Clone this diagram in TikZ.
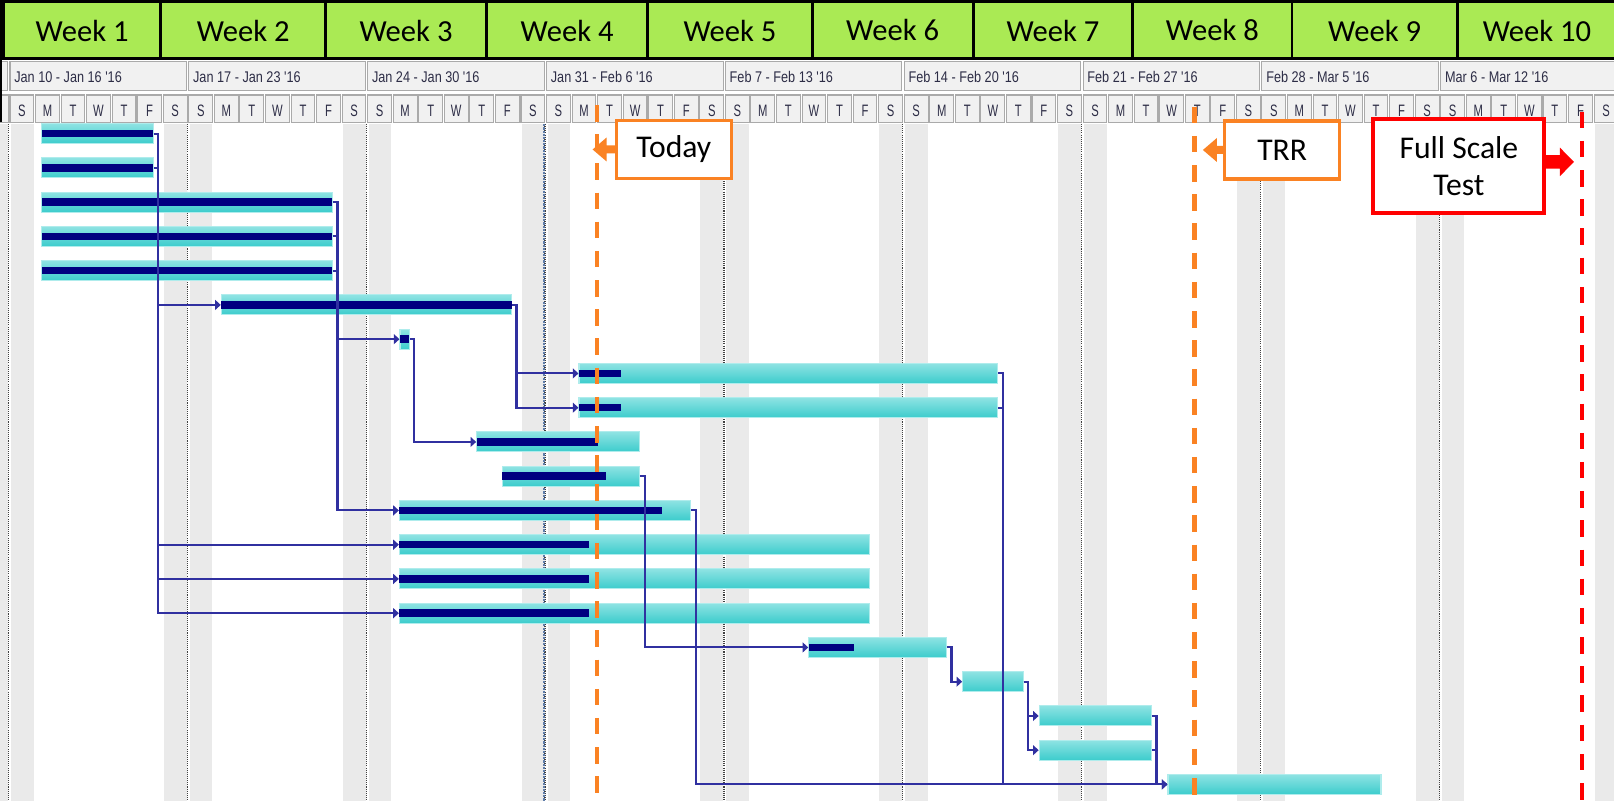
\documentclass[tikz,border=0pt]{standalone}
\usepackage{fontspec}
\setmainfont{Carlito}
\newfontfamily\narrowfont[FakeStretch=0.82]{Liberation Sans}
\newfontfamily\daysfont[FakeStretch=0.68]{Liberation Sans}
\usetikzlibrary{arrows.meta,fit}

\definecolor{weekgreen}{RGB}{170,234,84}
\definecolor{barlight}{RGB}{142,227,227}
\definecolor{bardark}{RGB}{60,204,204}
\definecolor{barrim}{RGB}{175,236,236}
\definecolor{progress}{RGB}{0,0,128}
\definecolor{linkblue}{RGB}{48,48,160}
\definecolor{todayorange}{RGB}{250,130,35}
\definecolor{testred}{RGB}{255,0,0}
\definecolor{stipple}{RGB}{234,234,234}
\definecolor{cellgray}{RGB}{241,241,241}
\definecolor{cellborder}{RGB}{170,170,170}
\definecolor{statusline}{RGB}{95,125,170}
\definecolor{headtext}{RGB}{45,45,70}

% one task bar: name, start, end, row centre, end of completed part (may be empty)
\newcommand\ganttbar[5]{%
  \node[taskbar, fit={(#2,#4-10) (#3,#4+10)}] (#1) {};
  \ifx&#5&\else\fill[done] (#2,#4-3.7) rectangle (#5,#4+3.7);\fi
}

\begin{document}
\begin{tikzpicture}[x=0.01cm,y=-0.01cm,
  weekcell/.style={fill=weekgreen,draw=black,line width=0.8pt},
  weeklabel/.style={font=\fontsize{8.7}{10}\selectfont,inner sep=0pt},
  headcell/.style={fill=cellgray,draw=cellborder,line width=0.3pt},
  datelabel/.style={font=\narrowfont\fontsize{4.4}{5}\selectfont,text=headtext,inner sep=0pt,anchor=west},
  daylabel/.style={font=\daysfont\fontsize{4.7}{5}\selectfont,text=headtext,inner sep=0pt},
  weekend/.style={fill=stipple},
  weekrule/.style={draw=black!75,line width=0.35pt,dash pattern=on 0.3pt off 0.3pt},
  taskbar/.style={rectangle,inner sep=0pt,top color=barlight,bottom color=bardark,draw=barrim,line width=0.3pt},
  done/.style={fill=progress},
  link/.style={draw=linkblue,line width=0.6pt},
  linkarrow/.style={link,-{Triangle[length=1.6pt,width=2.8pt]}},
  markerline/.style={line width=1.3pt,dash pattern=on 4.7pt off 3.6pt},
  callout/.style={fill=white,inner sep=0pt,font=\fontsize{9}{10.4}\selectfont,align=center},
]
\useasboundingbox (0,0) rectangle (1614,801);
\clip (0,0) rectangle (1614,801);
\fill[white] (0,0) rectangle (1614,801);

% weekend columns and week rules of the time grid
\foreach \w in {0,...,9}{
  \pgfmathsetmacro\xs{10+178.85*\w}
  \fill[weekend] (\xs-25.55+0.5,124) rectangle (\xs-2,801);
  \fill[weekend] (\xs+1,124) rectangle (\xs+23.5,801);
  \draw[weekrule] (\xs-1.5,124) -- (\xs-1.5,801);
}
\draw[draw=statusline,line width=0.35pt,dash pattern=on 0.6pt off 0.3pt] (544,118) -- (544,801);

% green week header
\foreach \xa/\xb/\xm/\n in {3.6/160.7/82.15/1,160.7/325.7/243.2/2,325.7/486.4/406.05/3,
    486.4/647.9/567.15/4,647.9/812.1/730/5,812.1/973.2/892.65/6,973.2/1132.8/1053/7,
    1132.8/1291.9/1212.35/8,1291.9/1457.4/1374.65/9,1457.4/1620/1537/10}{
  \path[weekcell] (\xa,1.7) rectangle (\xb,58.3);
  \node[weeklabel] (week\n) at (\xm,30.5) {Week \n};
}

% week date row
\foreach \lbl [count=\w from -1] in {{},{Jan 10 - Jan 16 '16},{Jan 17 - Jan 23 '16},{Jan 24 - Jan 30 '16},
    {Jan 31 - Feb 6 '16},{Feb 7 - Feb 13 '16},{Feb 14 - Feb 20 '16},{Feb 21 - Feb 27 '16},
    {Feb 28 - Mar 5 '16},{Mar 6 - Mar 12 '16}}{
  \pgfmathsetmacro\xs{10+178.85*\w}
  \path[headcell] (\xs,61.7) rectangle ++(176.5,29);
  \pgfmathtruncatemacro\wn{\w+1}
  \node[datelabel] (dates\wn) at (\xs+3.6,77) {\lbl};
}

% day letter row (the cell before Jan 10 is only a sliver, without its letter)
\path[headcell] (-15.55,95) rectangle ++(23.8,27.5);
\foreach \dayno in {0,...,62}{
  \pgfmathsetmacro\xs{10+25.55*\dayno}
  \pgfmathtruncatemacro\k{mod(\dayno,7)}
  \path[headcell] (\xs,95) rectangle ++(23.8,27.5);
  \node[daylabel] (day\dayno) at (\xs+11.9,110.5) {\ifcase\k S\or M\or T\or W\or T\or F\or S\fi};
}
\draw[black,line width=0.6pt] (1,0) -- (1,122);

% task bars
\ganttbar{b1}{41.7}{153.3}{133.7}{153.3}
\ganttbar{b2}{41.7}{153.3}{167.95}{153.3}
\ganttbar{b3}{41.7}{332.3}{202.2}{332.3}
\ganttbar{b4}{41.7}{332.3}{236.45}{332.3}
\ganttbar{b5}{41.7}{332.3}{270.7}{332.3}
\ganttbar{b6}{221.3}{511.6}{304.95}{511.6}
\ganttbar{b7}{400}{409.3}{339.2}{409.3}
\ganttbar{b8}{579}{997.4}{373.45}{620.7}
\ganttbar{b9}{579}{997.4}{407.7}{620.7}
\ganttbar{b10}{476.7}{639.3}{441.95}{598.3}
\ganttbar{b11}{502.3}{639.3}{476.2}{606}
\ganttbar{b12}{399.4}{690.7}{510.45}{661.8}
\ganttbar{b13}{399.4}{869.8}{544.7}{588.8}
\ganttbar{b14}{399.4}{869.8}{578.95}{588.8}
\ganttbar{b15}{399.4}{869.8}{613.2}{588.8}
\ganttbar{b16}{808.8}{946.6}{647.45}{853.6}
\ganttbar{b17}{962.7}{1023.2}{681.7}{}
\ganttbar{b18}{1039.2}{1151.4}{715.95}{}
\ganttbar{b19}{1039.2}{1151.4}{750.2}{}
\ganttbar{b20}{1168}{1381}{784.45}{}

% dependency links
\foreach \t in {b6,b13,b14,b15}{
  \draw[linkarrow] (b1.east) -- ++(4.4,0) |- (\t.west);
}
\draw[link] (b2.east) -- ++(4.4,0);
\foreach \t in {b7,b12}{
  \draw[linkarrow] (b3.east) -- ++(4.7,0) |- (\t.west);
}
\draw[link] (b4.east) -- ++(4.7,0);
\draw[link] (b5.east) -- ++(4.7,0);
\draw[linkarrow] (b6.east) -- ++(4.4,0) |- (b8.west);
\draw[linkarrow] (b6.east) -- ++(4.4,0) |- (b9.west);
\draw[linkarrow] (b7.east) -- ++(4,0) |- (b10.west);
\draw[linkarrow] (b11.east) -- ++(5,0) |- (b16.west);
\draw[linkarrow] (b12.east) -- ++(4.9,0) |- (b20.west);
\draw[link] (b8.east) -- ++(5.2,0) |- (b20.west);
\draw[link] (b9.east) -- ++(5.2,0);
\draw[linkarrow] (b16.east) -- ++(4.4,0) |- (b17.west);
\draw[linkarrow] (b17.east) -- ++(4.6,0) |- (b18.west);
\draw[linkarrow] (b17.east) -- ++(4.6,0) |- (b19.west);
\draw[linkarrow] (b18.east) -- ++(4.6,0) |- (b20.west);
\draw[link] (b19.east) -- ++(4.6,0);

% milestone marker lines
\coordinate (todaytop) at (597,105);
\coordinate (todaybot) at (597,801);
\coordinate (trrtop) at (1194.5,106.7);
\coordinate (trrbot) at (1194.5,801);
\coordinate (testtop) at (1582,111.7);
\coordinate (testbot) at (1582,801);
\draw[markerline,todayorange] (todaytop) -- (todaybot);
\draw[markerline,todayorange] (trrtop) -- (trrbot);
\draw[markerline,testred] (testtop) -- (testbot);

% callouts
\node[callout,draw=todayorange,line width=1pt,minimum width=1.15cm,minimum height=0.58cm] (today) at (673.9,149.5) {Today};
\node[callout,draw=todayorange,line width=1pt,minimum width=1.15cm,minimum height=0.58cm] (trr) at (1282.2,150) {TRR};
\node[callout,draw=testred,line width=1.15pt,minimum width=1.71cm,minimum height=0.94cm] (fst) at (1458.9,165.9) {Full Scale\\Test};

\fill[todayorange] (today.west) ++(1,-4) -- ++(-9,0) -- ++(0,-8) -- ++(-14,12) -- ++(14,12) -- ++(0,-8) -- ++(9,0) -- cycle;
\fill[todayorange] (trr.west) ++(1,-4) -- ++(-7,0) -- ++(0,-8) -- ++(-14,12) -- ++(14,12) -- ++(0,-8) -- ++(7,0) -- cycle;
\fill[testred] (fst.east) ++(-1,-10.7) -- ++(14.5,0) -- ++(0,-7.5) -- ++(14,14.2) -- ++(-14,14.2) -- ++(0,-7.5) -- ++(-14.5,0) -- cycle;
\end{tikzpicture}
\end{document}
